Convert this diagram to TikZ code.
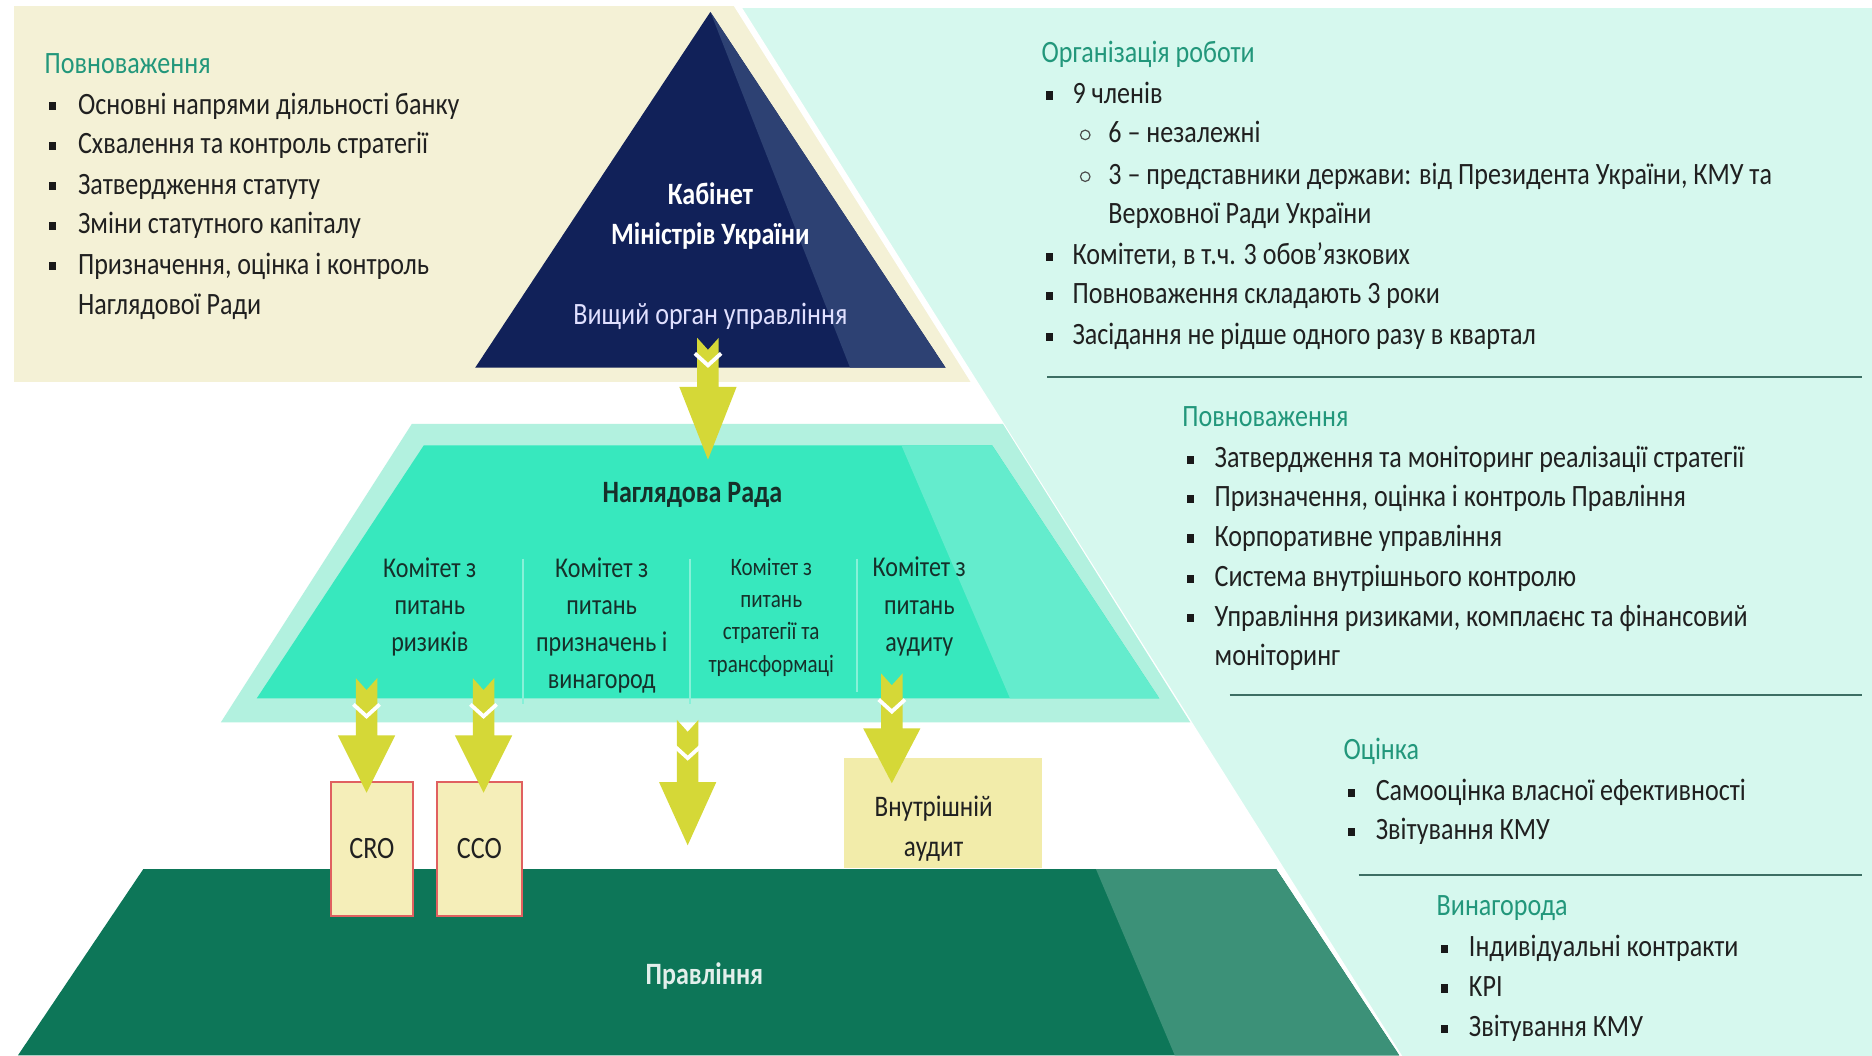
\documentclass[tikz,border=0pt]{standalone}
\usepackage{fontspec}
\setmainfont{Carlito}[FakeStretch=0.84]
\definecolor{beigec}{HTML}{F4F1D6}
\definecolor{mintc}{HTML}{D6F8EE}
\definecolor{navyc}{HTML}{112159}
\definecolor{navyface}{HTML}{2D4173}
\definecolor{outerc}{HTML}{B2F1DF}
\definecolor{tealc}{HTML}{37E8BE}
\definecolor{tealface}{HTML}{64ECCD}
\definecolor{darkg}{HTML}{0D7658}
\definecolor{darkface}{HTML}{3C9178}
\definecolor{arrowc}{HTML}{D5D837}
\definecolor{auditc}{HTML}{F2ECAA}
\definecolor{boxc}{HTML}{F5EEB9}
\definecolor{boxline}{HTML}{E06060}
\definecolor{sepc}{HTML}{3D6E63}
\definecolor{headc}{HTML}{22977B}
\definecolor{bodyc}{HTML}{202020}
\definecolor{midtxt}{HTML}{16302A}
\newcommand\yarrow[6]{%
  \coordinate (#6s) at (#1,#2);
  \coordinate (#6e) at (#1,#5);
  \fill[arrowc] (#1-9,#2) -- (#1,#2+10) -- (#1+9,#2) -- (#1+9,#4) -- (#1+24,#4)
     -- (#6e) -- (#1-24,#4) -- (#1-9,#4) -- cycle;
  \draw[white,line width=1.6pt] (#1-11,#3) -- (#1,#3+10) -- (#1+11,#3);
}
\begin{document}
\begin{tikzpicture}[x=0.5pt,y=-0.5pt,
  txt/.style={anchor=west,inner sep=0pt,text height=9pt,text depth=2.5pt,
    font=\fontsize{13}{15}\selectfont,text=bodyc},
  head/.style={txt,text=headc},
  bul/.style={fill=black!90,inner sep=0pt,minimum width=2.8pt,minimum height=3.4pt},
  cbul/.style={draw=black!70,line width=0.5pt,circle,inner sep=0pt,minimum size=4pt},
  sepline/.style={draw=sepc,line width=1pt},
  comm/.style={align=center,inner sep=0pt,text=midtxt,font=\fontsize{12}{15.5}\selectfont},
  vsep/.style={draw=white!40!tealc,line width=0.6pt},
]
\useasboundingbox (0,0) rectangle (1568,884);
\fill[white] (0,0) rectangle (1568,884);
% beige panel
\fill[beigec] (12,5) rectangle (840,320);
% mint panel
\filldraw[fill=mintc,draw=white,line width=2.5pt] (617,4) -- (1572,4) -- (1572,890) -- (1175,890) -- cycle;
% top triangle
\fill[navyc] (595,10) -- (792,308) -- (398,308) -- cycle;
\fill[navyface] (595,10) -- (792,308) -- (712,308) -- cycle;
% middle trapezoid
\fill[outerc] (345,355) -- (840,355) -- (997,605) -- (185,605) -- cycle;
\fill[tealc] (355,373) -- (831,373) -- (971,585) -- (215,585) -- cycle;
\fill[tealface] (755,373) -- (831,373) -- (971,585) -- (846,585) -- cycle;
% bottom trapezoid
\fill[darkg] (120,728) -- (1069,728) -- (1172,884) -- (15,884) -- cycle;
\fill[darkface] (918,728) -- (1069,728) -- (1172,884) -- (984,884) -- cycle;
% committee separators
\draw[vsep] (438,468) -- (438,590);
\draw[vsep] (578,468) -- (578,590);
\draw[vsep] (718,468) -- (718,580);

% left text
\node[head] (lh) at (37,55) {Повноваження};
\foreach \y/\t [count=\i] in {89/Основні напрями діяльності банку,122/Схвалення та контроль стратегії,156/Затвердження статуту,189/Зміни статутного капіталу,223/{Призначення, оцінка і контроль}}{
  \node[bul] (lb\i) at (44,\y) {};
  \node[txt] (lt\i) at (65,\y) {\t};
}
\node[txt] (lt6) at (65,257) {Наглядової Ради};

% right text: organisation
\node[head] (rh1) at (872,46) {Організація роботи};
\node[bul] (rb1) at (879,80) {};
\node[txt] (rt1) at (898,80) {9 членів};
\node[cbul] (rc1) at (909,113) {};
\node[txt] (rt2) at (928,113) {6 – незалежні};
\node[cbul] (rc2) at (909,148) {};
\node[txt] (rt3) at (928,148) {3 – представники держави: від Президента України, КМУ та};
\node[txt] (rt4) at (928,181) {Верховної Ради України};
\node[bul] (rb2) at (879,215) {};
\node[txt] (rt5) at (898,215) {Комітети, в т.ч. 3 обов'язкових};
\node[bul] (rb3) at (879,248) {};
\node[txt] (rt6) at (898,248) {Повноваження складають 3 роки};
\node[bul] (rb4) at (879,282) {};
\node[txt] (rt7) at (898,282) {Засідання не рідше одного разу в квартал};
\coordinate (s1a) at (877,316); \coordinate (s1b) at (1560,316);
\draw[sepline] (s1a) -- (s1b);

\node[head] (rh2) at (990,351) {Повноваження};
\foreach \y/\t [count=\i] in {385/Затвердження та моніторинг реалізації стратегії,418/{Призначення, оцінка і контроль Правління},451/Корпоративне управління,485/Система внутрішнього контролю,518/{Управління ризиками, комплаєнс та фінансовий}}{
  \node[bul] (pb\i) at (997,\y) {};
  \node[txt] (pt\i) at (1017,\y) {\t};
}
\node[txt] (pt6) at (1017,551) {моніторинг};
\coordinate (s2a) at (1030,582); \coordinate (s2b) at (1560,582);
\draw[sepline] (s2a) -- (s2b);

\node[head] (rh3) at (1125,630) {Оцінка};
\node[bul] (ob1) at (1132,664) {};
\node[txt] (ot1) at (1152,664) {Самооцінка власної ефективності};
\node[bul] (ob2) at (1132,697) {};
\node[txt] (ot2) at (1152,697) {Звітування КМУ};
\coordinate (s3a) at (1138,733); \coordinate (s3b) at (1560,733);
\draw[sepline] (s3a) -- (s3b);

\node[head] (rh4) at (1203,760) {Винагорода};
\node[bul] (vb1) at (1210,795) {};
\node[txt] (vt1) at (1230,795) {Індивідуальні контракти};
\node[bul] (vb2) at (1210,828) {};
\node[txt] (vt2) at (1230,828) {KPI};
\node[bul] (vb3) at (1210,862) {};
\node[txt] (vt3) at (1230,862) {Звітування КМУ};

% triangle text
\node[txt,anchor=center,text=white,font=\fontsize{13}{15}\bfseries] (kab1) at (595,165) {Кабінет};
\node[txt,anchor=center,text=white,font=\fontsize{13}{15}\bfseries] (kab2) at (595,198) {Міністрів України};
\node[txt,anchor=center,text=white!88!blue] (vyshch) at (595,265) {Вищий орган управління};

% middle text
\node[txt,anchor=center,text=midtxt,font=\fontsize{13}{15}\bfseries] (nr) at (580,414) {Наглядова Рада};
\node[comm] (c1) at (360,508) {Комітет з\\питань\\ризиків};
\node[comm] (c2) at (504,524) {Комітет з\\питань\\призначень і\\винагород};
\node[comm,font=\fontsize{10.5}{13.5}\selectfont] (c3) at (646,517) {Комітет з\\питань\\стратегії та\\трансформаці};
\node[comm] (c4) at (770,508) {Комітет з\\питань\\аудиту};

% boxes
\node[draw=boxline,fill=boxc,line width=0.8pt,minimum width=34.5pt,minimum height=56pt,inner sep=0pt,
  font=\fontsize{13}{15}\selectfont,text=bodyc] (cro) at (311.5,711) {CRO};
\node[draw=boxline,fill=boxc,line width=0.8pt,minimum width=35.5pt,minimum height=56pt,inner sep=0pt,
  font=\fontsize{13}{15}\selectfont,text=bodyc] (cco) at (401.5,711) {CCO};
\node[fill=auditc,minimum width=83pt,minimum height=46pt,inner sep=0pt] (audit) at (790,681) {};

% arrows
\yarrow{593}{283}{296}{324}{385}{a1}
\yarrow{307}{568}{590}{616}{664}{a2}
\yarrow{405}{568}{590}{616}{664}{a3}
\yarrow{576}{603}{625}{655}{708}{a4}
\yarrow{747}{564}{586}{610}{656}{a5}

\node[comm,font=\fontsize{12.5}{17}\selectfont,text=bodyc] (audittxt) at (782,694) {Внутрішній\\аудит};

% bottom text
\node[txt,anchor=center,text=white!88!darkg,font=\fontsize{13}{15}\bfseries] (prav) at (590,818) {Правління};
\end{tikzpicture}
\end{document}
